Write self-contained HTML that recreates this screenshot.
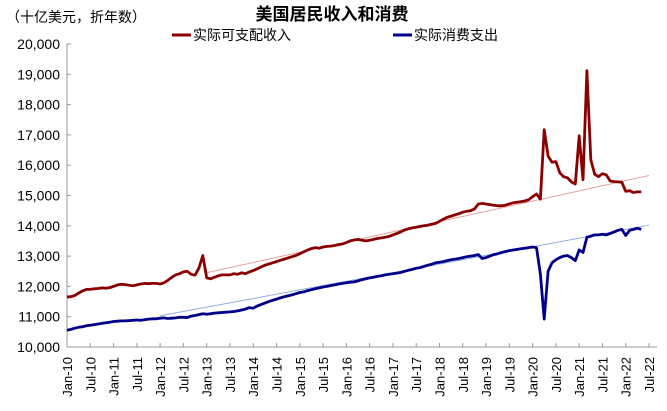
<!DOCTYPE html>
<html><head><meta charset="utf-8">
<style>
body{margin:0;background:#fff;}
svg{display:block;font-family:"Liberation Sans","Noto Sans CJK SC",sans-serif;}
</style></head>
<body>
<svg id="chart" width="667" height="411" viewBox="0 0 667 411">
<text x="6" y="22" font-size="14" fill="#000">（十亿美元，折年数）</text>
<text x="332" y="20" font-size="17" font-weight="bold" text-anchor="middle" fill="#000">美国居民收入和消费</text>
<g>
<line x1="172" y1="35" x2="191" y2="35" stroke="#8B0000" stroke-width="3"/>
<text x="193" y="40" font-size="14" fill="#000">实际可支配收入</text>
</g>
<g>
<line x1="393" y1="35" x2="412" y2="35" stroke="#00008B" stroke-width="3"/>
<text x="414" y="40" font-size="14" fill="#000">实际消费支出</text>
</g>
<g id="axes"></g>
<g id="marks"></g>
</svg>
<script>
const yTicks=[10000,11000,12000,13000,14000,15000,16000,17000,18000,19000,20000];
const xTickLabels=["Jan-10","Jul-10","Jan-11","Jul-11","Jan-12","Jul-12","Jan-13","Jul-13","Jan-14","Jul-14","Jan-15","Jul-15","Jan-16","Jul-16","Jan-17","Jul-17","Jan-18","Jul-18","Jan-19","Jul-19","Jan-20","Jul-20","Jan-21","Jul-21","Jan-22","Jul-22"];
const income=[11.65,11.66,11.70,11.78,11.85,11.90,11.90,11.92,11.93,11.95,11.94,11.96,
12.00,12.05,12.07,12.06,12.04,12.02,12.05,12.08,12.10,12.09,12.10,12.10,
12.08,12.12,12.20,12.30,12.38,12.42,12.48,12.50,12.40,12.37,12.60,13.02,
12.28,12.25,12.30,12.35,12.38,12.38,12.38,12.42,12.40,12.45,12.42,12.48,
12.52,12.58,12.64,12.70,12.74,12.78,12.82,12.86,12.90,12.94,12.98,13.02,
13.08,13.14,13.20,13.25,13.28,13.26,13.30,13.32,13.33,13.35,13.38,13.40,
13.45,13.50,13.53,13.55,13.52,13.50,13.52,13.55,13.58,13.60,13.62,13.65,
13.70,13.75,13.80,13.86,13.90,13.93,13.95,13.98,14.00,14.02,14.05,14.08,
14.15,14.22,14.28,14.32,14.36,14.40,14.45,14.48,14.50,14.55,14.72,14.74,
14.72,14.70,14.68,14.66,14.66,14.68,14.72,14.76,14.78,14.80,14.82,14.86,
14.96,15.05,14.88,17.17,16.30,16.10,16.12,15.75,15.62,15.58,15.45,15.38,
16.97,15.52,19.12,16.18,15.70,15.62,15.72,15.68,15.48,15.46,15.45,15.44,
15.14,15.16,15.10,15.12,15.12];
const consumption=[10.55,10.58,10.62,10.65,10.67,10.70,10.72,10.74,10.76,10.78,10.80,10.82,
10.84,10.85,10.86,10.86,10.87,10.88,10.89,10.88,10.90,10.92,10.93,10.93,
10.95,10.96,10.94,10.95,10.96,10.98,10.98,10.97,11.02,11.04,11.07,11.10,
11.08,11.10,11.12,11.13,11.14,11.15,11.16,11.17,11.19,11.22,11.25,11.30,
11.28,11.35,11.40,11.45,11.50,11.54,11.58,11.62,11.66,11.69,11.72,11.76,
11.80,11.82,11.86,11.89,11.92,11.95,11.98,12.00,12.03,12.05,12.08,12.10,
12.12,12.14,12.15,12.18,12.22,12.25,12.28,12.30,12.33,12.35,12.38,12.40,
12.42,12.44,12.46,12.50,12.53,12.56,12.60,12.62,12.66,12.70,12.73,12.78,
12.80,12.82,12.85,12.88,12.90,12.92,12.95,12.98,13.00,13.02,13.05,12.92,
12.95,13.00,13.05,13.08,13.12,13.15,13.18,13.20,13.22,13.24,13.26,13.28,
13.30,13.28,12.40,10.92,12.50,12.78,12.88,12.95,13.00,13.02,12.95,12.85,
13.20,13.12,13.62,13.66,13.70,13.70,13.72,13.70,13.75,13.80,13.85,13.88,
13.68,13.85,13.88,13.92,13.88];
const incomeTrend=[[36,12.45],[150,15.66]];
const consumptionTrend=[[24,11.03],[150,14.02]];

const X0=67,X1=649,Y0=347,Y1=44,M=150;
const x=m=>X0+(X1-X0)*m/M;
const y=v=>Y0-(Y0-Y1)*(v-10000)/10000;
const yk=v=>y(v*1000);
const NS="http://www.w3.org/2000/svg";
const axes=document.getElementById('axes'),marks=document.getElementById('marks');
function mk(tag,attrs,parent){const e=document.createElementNS(NS,tag);for(const k in attrs)e.setAttribute(k,attrs[k]);parent.appendChild(e);return e;}

const ya=mk('line',{x1:X0,y1:Y1,x2:X0,y2:Y0,stroke:'#999','stroke-width':1},axes);


const xa=mk('line',{x1:X0,y1:Y0,x2:X1+8,y2:Y0,stroke:'#999','stroke-width':1},axes);


yTicks.forEach(v=>{
  mk('line',{x1:X0,y1:y(v),x2:X0+4,y2:y(v),stroke:'#999'},axes);
  const t=mk('text',{x:60,y:y(v)+5,'font-size':14,'text-anchor':'end',fill:'#000'},axes);
  t.textContent=v.toLocaleString('en-US');
  
  
});
xTickLabels.forEach((l,i)=>{
  const xx=x(i*6);
  if(i>0) mk('line',{x1:xx,y1:Y0,x2:xx,y2:Y0-4,stroke:'#999'},axes);
  const t=mk('text',{x:0,y:0,'font-size':13,'text-anchor':'end',fill:'#000',transform:`translate(${xx+5},${357}) rotate(-90)`},axes);
  t.textContent=l;
  
  
});
function trend(tr,col,name){
  const l=mk('line',{x1:x(tr[0][0]),y1:yk(tr[0][1]),x2:x(tr[1][0]),y2:yk(tr[1][1]),stroke:col,'stroke-width':1},marks);
  
  
}
trend(incomeTrend,'#E8A0A0','income-trend-line');
trend(consumptionTrend,'#8FB0E0','consumption-trend-line');
function series(d,col,name){
  const p=mk('polyline',{points:d.map((v,i)=>x(i).toFixed(1)+','+yk(v).toFixed(1)).join(' '),fill:'none',stroke:col,'stroke-width':2.8,'stroke-linejoin':'round'},marks);
  
  
}
series(income,'#8B0000','income-line');
series(consumption,'#00008B','consumption-line');
</script>
</body></html>
